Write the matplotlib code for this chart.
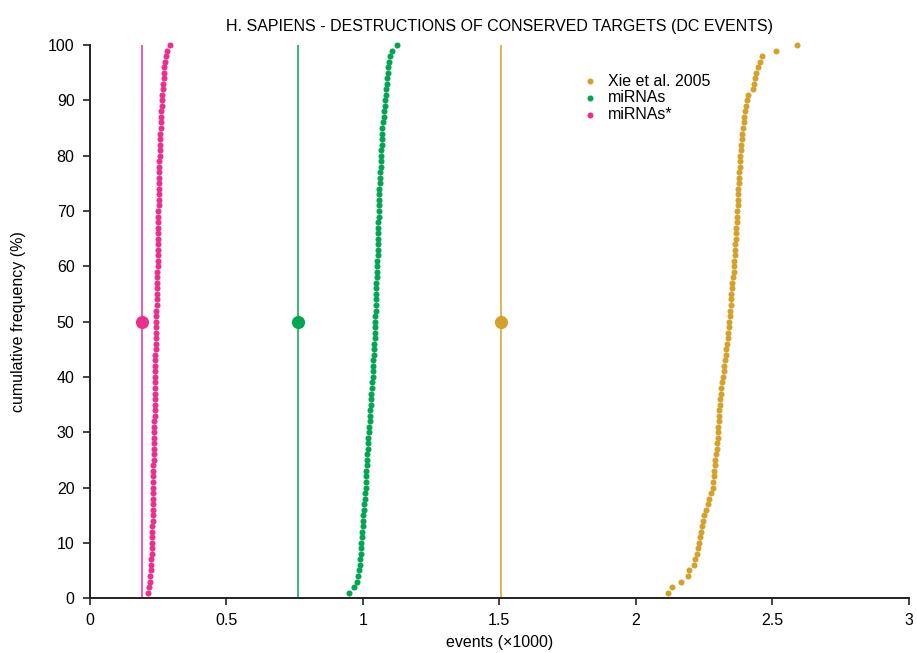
import numpy as np
import matplotlib.pyplot as plt

plt.rcParams['font.family'] = ['Liberation Sans', 'DejaVu Sans']

### cumulative frequency (%) ###
freq = np.arange(1, 101)

xie = [2.119, 2.134, 2.164, 2.192, 2.194, 2.212, 2.216, 2.225, 2.228, 2.231,
       2.235, 2.239, 2.242, 2.245, 2.249, 2.256, 2.263, 2.270, 2.276, 2.282,
       2.284, 2.286, 2.288, 2.290, 2.292, 2.294, 2.296, 2.298, 2.300, 2.302,
       2.303, 2.304, 2.305, 2.306, 2.308, 2.310, 2.312, 2.314, 2.317, 2.320,
       2.322, 2.325, 2.327, 2.329, 2.332, 2.334, 2.336, 2.338, 2.340, 2.342,
       2.344, 2.345, 2.347, 2.348, 2.350, 2.352, 2.354, 2.356, 2.358, 2.360,
       2.361, 2.362, 2.363, 2.364, 2.366, 2.367, 2.368, 2.369, 2.370, 2.372,
       2.373, 2.374, 2.375, 2.376, 2.377, 2.378, 2.379, 2.380, 2.381, 2.383,
       2.384, 2.386, 2.388, 2.390, 2.393, 2.395, 2.398, 2.401, 2.405, 2.409,
       2.411, 2.430, 2.432, 2.436, 2.440, 2.446, 2.454, 2.463, 2.515, 2.592]

mirnas = [0.950, 0.969, 0.978, 0.984, 0.987, 0.989, 0.991, 0.992, 0.994, 0.995,
          0.996, 0.998, 0.999, 1.001, 1.002, 1.004, 1.005, 1.007, 1.008, 1.010,
          1.011, 1.012, 1.013, 1.015, 1.016, 1.017, 1.018, 1.019, 1.020, 1.022,
          1.023, 1.025, 1.026, 1.027, 1.029, 1.030, 1.031, 1.033, 1.034, 1.036,
          1.037, 1.038, 1.039, 1.040, 1.041, 1.042, 1.043, 1.043, 1.044, 1.045,
          1.046, 1.047, 1.048, 1.048, 1.049, 1.050, 1.050, 1.051, 1.052, 1.053,
          1.053, 1.054, 1.054, 1.055, 1.055, 1.056, 1.057, 1.057, 1.058, 1.059,
          1.059, 1.060, 1.061, 1.061, 1.062, 1.063, 1.064, 1.065, 1.066, 1.067,
          1.068, 1.069, 1.070, 1.071, 1.072, 1.074, 1.076, 1.078, 1.080, 1.082,
          1.084, 1.086, 1.088, 1.090, 1.092, 1.094, 1.097, 1.101, 1.106, 1.125]

mirnas_star = [0.213, 0.217, 0.220, 0.222, 0.223, 0.224, 0.225, 0.226, 0.227, 0.228,
               0.228, 0.229, 0.229, 0.230, 0.230, 0.231, 0.231, 0.231, 0.232, 0.232,
               0.232, 0.233, 0.233, 0.233, 0.234, 0.234, 0.235, 0.235, 0.235, 0.236,
               0.236, 0.236, 0.237, 0.237, 0.237, 0.238, 0.238, 0.238, 0.239, 0.239,
               0.239, 0.240, 0.240, 0.240, 0.241, 0.241, 0.242, 0.242, 0.243, 0.243,
               0.244, 0.244, 0.245, 0.245, 0.245, 0.246, 0.246, 0.247, 0.247, 0.248,
               0.248, 0.248, 0.249, 0.249, 0.249, 0.250, 0.250, 0.250, 0.251, 0.251,
               0.252, 0.252, 0.252, 0.253, 0.253, 0.254, 0.254, 0.255, 0.255, 0.256,
               0.256, 0.257, 0.258, 0.258, 0.259, 0.260, 0.261, 0.262, 0.263, 0.265,
               0.266, 0.267, 0.268, 0.270, 0.271, 0.273, 0.276, 0.280, 0.284, 0.293]

# observed (real) values, drawn as vertical lines with a big dot at 50%
labels = ["Xie et al. 2005", "miRNAs", "miRNAs*"]
observed = [1.505, 0.762, 0.190]
colors = ["#D4A12B", "#00A651", "#EC2E8C"]
series = [xie, mirnas, mirnas_star]

fig = plt.figure(figsize=(9.17, 6.53), dpi=100)
ax = fig.add_axes([0.098, 0.084, 0.893, 0.847])

for vals, obs, col, lab in zip(series, observed, colors, labels):
    ax.axvline(obs, color=col, lw=1.1, zorder=1)
    ax.scatter(vals, freq, s=19, color=col, lw=0, label=lab, clip_on=False, zorder=3)
    ax.scatter([obs], [50], s=90, color=col, lw=0, clip_on=False, zorder=3)

ax.set_xlim(0, 3)
ax.set_ylim(0, 100)
ax.set_xticks([0, 0.5, 1, 1.5, 2, 2.5, 3])
ax.set_xticklabels(["0", "0.5", "1", "1.5", "2", "2.5", "3"])
ax.set_yticks(range(0, 101, 10))

for s in ["top", "right"]:
    ax.spines[s].set_visible(False)
for s in ["left", "bottom"]:
    ax.spines[s].set_linewidth(1.4)
    ax.spines[s].set_color("#222222")
ax.tick_params(direction="out", length=5, width=1.2, color="#222222",
               labelsize=11.5, pad=6)

ax.set_xlabel("events (\u00d71000)", fontsize=11.5, labelpad=5)
ax.set_ylabel("cumulative frequency (%)", fontsize=11.5, labelpad=16)
ax.set_title("H. SAPIENS - DESTRUCTIONS OF CONSERVED TARGETS (DC EVENTS)",
             fontsize=11.5, pad=10)

ax.legend(loc="upper left", bbox_to_anchor=(0.584, 0.96), frameon=False,
          fontsize=11.5, handletextpad=0.1, labelspacing=0.1,
          borderaxespad=0, markerscale=1.0)

fig.savefig("out.png", dpi=100)
